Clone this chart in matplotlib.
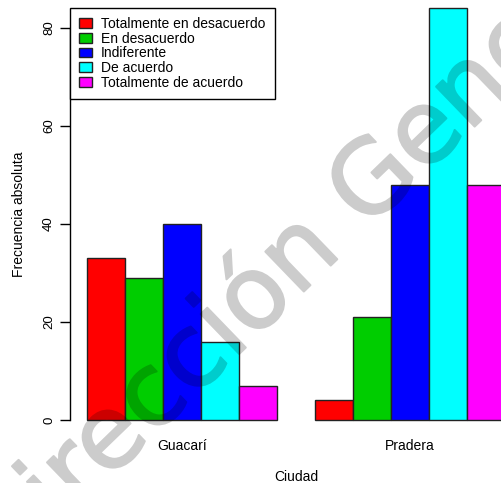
import numpy as np
import matplotlib
matplotlib.use("Agg")
import matplotlib.pyplot as plt
import matplotlib.patheffects as pe

# frecuencias
ciudades = ["Guacarí", "Pradera"]
respuestas = ["Totalmente en desacuerdo", "En desacuerdo", "Indiferente",
              "De acuerdo", "Totalmente de acuerdo"]
guacari = [33, 29, 40, 16, 7]
pradera = [4, 21, 48, 84, 48]
colores = ["#ff0000", "#00cd00", "#0000ff", "#00ffff", "#ff00ff"]

plt.rcParams['font.family'] = ['Liberation Sans', 'DejaVu Sans']

W, H = 502, 483
fig = plt.figure(figsize=(W / 100, H / 100), dpi=100)
# plot region of the R barplot (cropped at top and right)
x0, x1 = 70.3, 521.7
y0, y1 = 436.5, -8.0
ax = fig.add_axes([x0 / W, 1 - y0 / H, (x1 - x0) / W, (y0 - y1) / H])

datos = np.array([guacari, pradera])
n = len(respuestas)
for g in range(len(ciudades)):
    base = 1 + g * (n + 1)
    for k in range(n):
        ax.bar(base + k, datos[g, k], width=1, align='edge', color=colores[k],
               edgecolor='#222222', linewidth=1, label=respuestas[k] if g == 0 else None)

ax.set_xlim(0.56, 12.44)
ax.set_ylim(-3.36, 87.36)
for s in ['top', 'right', 'bottom']:
    ax.spines[s].set_visible(False)
ax.spines['left'].set_bounds(0, 80)
ax.spines['left'].set_linewidth(1)
ax.set_yticks([0, 20, 40, 60, 80])
ax.tick_params(axis='y', length=7, width=1, labelsize=9.5, pad=4, labelrotation=90)
for t in ax.get_yticklabels():
    t.set_va('center')
ax.set_xticks([1 + g * (n + 1) + n / 2 for g in range(len(ciudades))])
ax.set_xticklabels(ciudades, fontsize=10)
ax.tick_params(axis='x', length=0, pad=2)
ax.set_xlabel("Ciudad", fontsize=10, labelpad=12)
ax.set_ylabel("Frecuencia absoluta", fontsize=10, labelpad=12)

leg = ax.legend(loc='upper left', bbox_to_anchor=(70 / W, 1 - 8 / H),
                bbox_transform=fig.transFigure, borderaxespad=0, fancybox=False,
                edgecolor='black', framealpha=1, fontsize=10, handlelength=0.9,
                handleheight=0.7, handletextpad=0.7, labelspacing=0.05, borderpad=0.65)
leg.get_frame().set_linewidth(1)


# marca de agua: se dibuja opaca y luego se baja la opacidad de todo el texto
def transparente(img, dpi):
    out = img.copy()
    out[..., 3] *= 0.2
    return out, 0, 0


marca = fig.text(0.005, -0.206, "Dirección General", family='DejaVu Sans',
                 fontsize=73, color='black', rotation=44, rotation_mode='anchor',
                 ha='left', va='baseline',
                 path_effects=[pe.withStroke(linewidth=1.5, foreground='black')])
marca.set_agg_filter(transparente)

fig.savefig("out.png", dpi=100)
